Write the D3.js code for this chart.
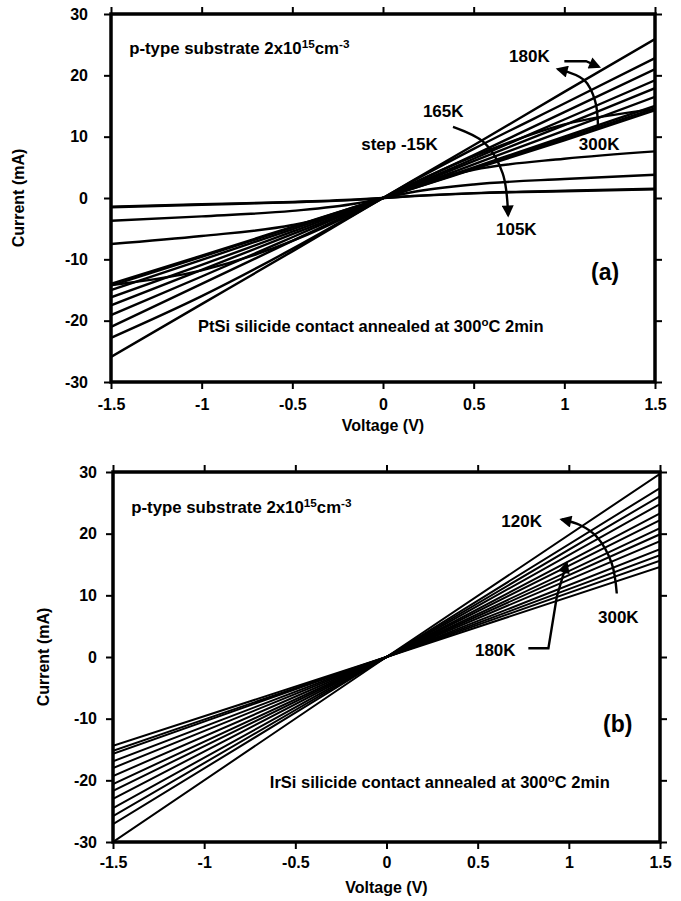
<!DOCTYPE html>
<html>
<head>
<meta charset="utf-8">
<script src="https://cdn.jsdelivr.net/npm/d3@7"></script>
<style>
body { margin: 0; background: #fff; }
text { font-family: "Liberation Sans", Arial, Helvetica, sans-serif; font-weight: bold; fill: #000; }
</style>
</head>
<body>
<svg id="chart" width="681" height="901"></svg>
<script>
// tick values shared by both panels
const voltTicks = [-1.5, -1, -0.5, 0, 0.5, 1, 1.5];
const currTicks = [-30, -20, -10, 0, 10, 20, 30];

// panel (a) PtSi : current (mA) read at these voltages, one row per temperature (K)
const voltsA = [-1.5, -1, -0.5, -0.15, 0, 0.15, 0.5, 1, 1.5];
const tempsA = [180, 195, 210, 225, 240, 255, 270, 285, 300, 165, 150, 135, 120, 105];
const currentsA = [
    [-25.9, -17.3, -8.7, -2.6, 0, 2.6, 8.6, 17.3, 25.9],
    [-22.8, -16.0, -8.3, -2.5, 0, 2.5, 8.0, 15.4, 22.8],
    [-21.0, -14.0, -7.0, -2.1, 0, 2.1, 7.0, 14.0, 21.0],
    [-19.1, -12.8, -6.4, -1.9, 0, 1.9, 6.4, 12.8, 19.2],
    [-17.5, -11.7, -5.9, -1.8, 0, 1.8, 6.0, 11.9, 17.9],
    [-16.2, -10.9, -5.5, -1.6, 0, 1.6, 5.5, 11.0, 16.5],
    [-15.0, -10.1, -5.1, -1.5, 0, 1.5, 5.0, 10.0, 15.0],
    [-14.3, -9.6, -4.8, -1.4, 0, 1.4, 4.8, 9.7, 14.6],
    [-14.0, -9.4, -4.7, -1.4, 0, 1.4, 4.7, 9.4, 14.3],
    [-14.2, -11.8, -7.0, -2.3, 0, 2.2, 6.8, 12.0, 14.5],
    [-7.5, -6.2, -4.4, -1.8, 0, 1.9, 4.6, 6.4, 7.6],
    [-3.7, -3.0, -2.1, -0.9, 0, 0.9, 2.2, 3.1, 3.8],
    [-1.5, -1.1, -0.7, -0.3, 0, 0.3, 0.8, 1.2, 1.5],
    [-1.4, -1.0, -0.65, -0.25, 0, 0.28, 0.75, 1.1, 1.4]
];

// panel (b) IrSi : straight lines, current (mA) at -1.5 V and +1.5 V
const voltsB = [-1.5, 0, 1.5];
const tempsB = [120, 135, 150, 165, 180, 195, 210, 225, 240, 255, 270, 285, 300];
const negB = [-30.0, -27.1, -25.8, -24.5, -23.0, -21.7, -20.6, -19.3, -18.0, -16.9, -15.7, -15.2, -14.4];
const posB = [29.7, 27.4, 26.1, 24.8, 23.3, 22.2, 20.9, 19.9, 18.8, 17.5, 16.5, 15.6, 14.6];


class IVPanel {
    constructor(svg, id, box) {
        this.svg = svg;
        this.id = id;
        this.box = box;
    }

    initialize() {
        const b = this.box;
        this.x = d3.scaleLinear().domain([-1.5, 1.5]).range([b.left, b.right]);
        this.y = d3.scaleLinear().domain([-30, 30]).range([b.bottom, b.top]);
        this.g = this.svg.append("g");

        this.svg.select("defs").append("clipPath")
            .attr("id", "clip-" + this.id)
            .append("rect")
            .attr("x", b.left).attr("y", b.top)
            .attr("width", b.right - b.left).attr("height", b.bottom - b.top);

        this.curves = this.g.append("g").attr("clip-path", `url(#clip-${this.id})`);
        this.notes = this.g.append("g");
        this.axes = this.g.append("g");
    }

    drawAxes(yPad, xPad, titleX, titleY) {
        const b = this.box;
        const fmt = d => d;

        const bottom = this.axes.append("g")
            .attr("transform", `translate(0, ${b.bottom})`)
            .call(d3.axisBottom(this.x).tickValues(voltTicks).tickSize(7).tickPadding(xPad).tickFormat(fmt));
        const left = this.axes.append("g")
            .attr("transform", `translate(${b.left}, 0)`)
            .call(d3.axisLeft(this.y).tickValues(currTicks).tickSize(7).tickPadding(yPad).tickFormat(fmt));
        const top = this.axes.append("g")
            .attr("transform", `translate(0, ${b.top})`)
            .call(d3.axisTop(this.x).tickValues(voltTicks).tickSize(7).tickFormat(""));
        const right = this.axes.append("g")
            .attr("transform", `translate(${b.right}, 0)`)
            .call(d3.axisRight(this.y).tickValues(currTicks).tickSize(7).tickFormat(""));

        [bottom, left, top, right].forEach(a => {
            a.select(".domain").remove();
            a.selectAll("line").attr("stroke", "#000").attr("stroke-width", 2);
            a.selectAll("text")
                .style("font-family", '"Liberation Sans", Arial, sans-serif')
                .style("font-weight", "bold")
                .style("font-size", "16px");
        });

        this.axes.append("rect")
            .attr("x", b.left).attr("y", b.top)
            .attr("width", b.right - b.left).attr("height", b.bottom - b.top)
            .attr("fill", "none")
            .attr("stroke", "#000")
            .attr("stroke-width", 3.5);

        this.axes.append("text")
            .attr("x", (b.left + b.right) / 2)
            .attr("y", titleY)
            .attr("text-anchor", "middle")
            .style("font-size", "16px")
            .text("Voltage (V)");

        this.axes.append("text")
            .attr("transform", `translate(${titleX}, ${(b.top + b.bottom) / 2}) rotate(-90)`)
            .attr("text-anchor", "middle")
            .style("font-size", "16px")
            .text("Current (mA)");
    }

    drawCurves(rows, volts, width, curve) {
        const line = d3.line()
            .x((d, i) => this.x(volts[i]))
            .y(d => this.y(d))
            .curve(curve);

        this.curves.selectAll("path")
            .data(rows)
            .join("path")
            .attr("d", line)
            .attr("fill", "none")
            .attr("stroke", "#000")
            .attr("stroke-width", width)
            .attr("stroke-linejoin", "round");
    }

    // plain label, position given in data units
    label(v, i, str, size) {
        return this.notes.append("text")
            .attr("x", this.x(v))
            .attr("y", this.y(i))
            .style("font-size", size + "px")
            .text(str);
    }

    // label with superscripts: parts = [[text, isSup], ...]
    richLabel(v, i, parts, size) {
        const t = this.notes.append("text")
            .attr("x", this.x(v))
            .attr("y", this.y(i))
            .style("font-size", size + "px");
        let up = false;
        parts.forEach(([s, sup]) => {
            const span = t.append("tspan").text(s);
            if (sup) {
                span.style("font-size", (size * 0.7) + "px").attr("dy", up ? 0 : -6);
                up = true;
            } else {
                span.attr("dy", up ? 6 : 0);
                up = false;
            }
        });
        return t;
    }

    arrow(pts, curve) {
        const line = d3.line()
            .x(d => this.x(d[0]))
            .y(d => this.y(d[1]))
            .curve(curve);
        this.notes.append("path")
            .attr("d", line(pts))
            .attr("fill", "none")
            .attr("stroke", "#000")
            .attr("stroke-width", 2.4)
            .attr("marker-end", "url(#head)");
    }
}


const svg = d3.select("#chart");
const defs = svg.append("defs");
defs.append("marker")
    .attr("id", "head")
    .attr("viewBox", "0 0 10 10")
    .attr("refX", 8)
    .attr("refY", 5)
    .attr("markerUnits", "userSpaceOnUse")
    .attr("markerWidth", 15)
    .attr("markerHeight", 12)
    .attr("orient", "auto")
    .append("path")
    .attr("d", "M0,0 L10,5 L0,10 z")
    .attr("fill", "#000");

// ---- panel (a)
const pa = new IVPanel(svg, "a", { left: 111, right: 655, top: 14, bottom: 382 });
pa.initialize();
pa.drawCurves(currentsA, voltsA, 2.4, d3.curveMonotoneX);
pa.drawAxes(16, 10, 24, 431);

pa.richLabel(-1.40, 23.5, [["p-type substrate 2x10", false], ["15", true], ["cm", false], ["-3", true]], 16.8);
pa.label(0.695, 22.2, "180K", 17);
pa.arrow([[1.0, 22.3], [1.12, 22.3], [1.19, 21.4]], d3.curveLinear);
pa.arrow([[1.186, 11.4], [1.17, 15.8], [1.11, 19.2], [0.965, 21.0]], d3.curveCatmullRom);
pa.label(1.08, 7.8, "300K", 17);
pa.label(0.22, 13.2, "165K", 17);
pa.label(-0.12, 7.8, "step -15K", 17);
pa.arrow([[0.386, 11.6], [0.56, 9.0], [0.66, 4.0], [0.69, -2.8]], d3.curveCatmullRom);
pa.label(0.623, -6.0, "105K", 17);
pa.label(1.147, -13.4, "(a)", 23);
pa.richLabel(-1.02, -21.9, [["PtSi silicide contact annealed at 300", false], ["o", true], ["C 2min", false]], 16.5);

// ---- panel (b)
const rowsB = tempsB.map((t, k) => [negB[k], 0, posB[k]]);
const pb = new IVPanel(svg, "b", { left: 113, right: 660, top: 472, bottom: 842 });
pb.initialize();
pb.drawCurves(rowsB, voltsB, 2, d3.curveLinear);
pb.drawAxes(9, 8, 49, 893);

pb.richLabel(-1.40, 23.3, [["p-type substrate 2x10", false], ["15", true], ["cm", false], ["-3", true]], 16.8);
pb.label(0.63, 21.1, "120K", 17);
pb.arrow([[1.263, 10.3], [1.235, 15.2], [1.153, 19.5], [1.061, 21.4], [0.961, 22.3]], d3.curveCatmullRom);
pb.label(1.16, 5.5, "300K", 17);
pb.label(0.485, 0.16, "180K", 17);
pb.arrow([[0.778, 1.41], [0.888, 1.41], [0.934, 9.77], [0.988, 15.2]], d3.curveLinear);
pb.label(1.188, -12.2, "(b)", 23);
pb.richLabel(-0.64, -21.2, [["IrSi silicide contact annealed at 300", false], ["o", true], ["C 2min", false]], 16.5);
</script>
</body>
</html>
